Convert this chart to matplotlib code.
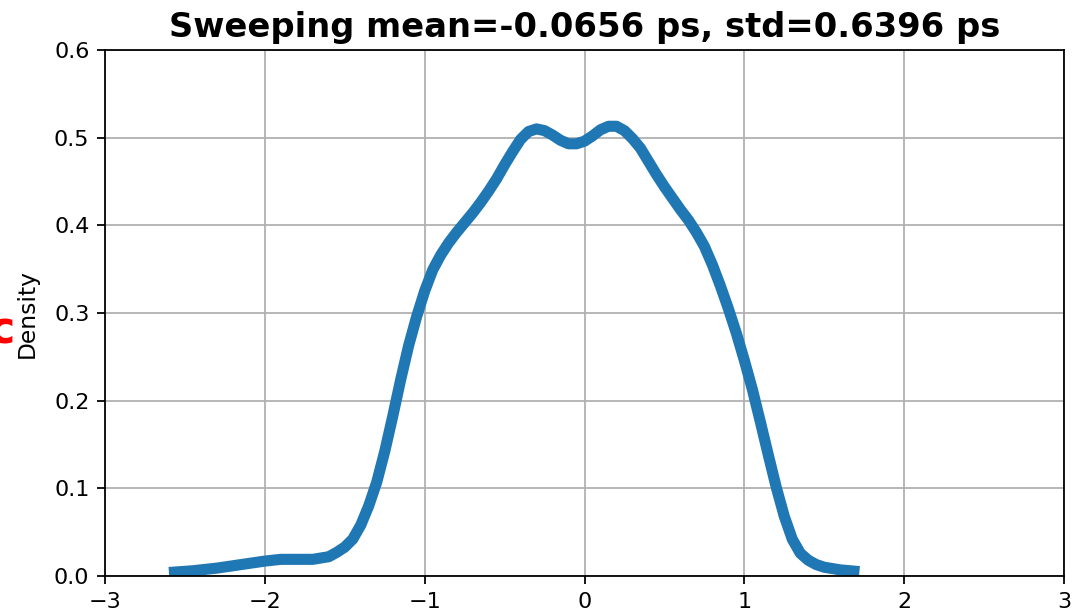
import matplotlib
matplotlib.use('Agg')
import matplotlib.pyplot as plt
import numpy as np

# values (delay in ps vs density)
delay_ps = [-2.60, -2.45, -2.30, -2.15, -2.00, -1.90, -1.80, -1.70, -1.60, -1.55,
            -1.50, -1.45, -1.40, -1.35, -1.30, -1.25, -1.20, -1.15, -1.10, -1.05,
            -1.00, -0.95, -0.90, -0.85, -0.80, -0.75, -0.70, -0.65, -0.60, -0.55,
            -0.50, -0.45, -0.40, -0.35, -0.30, -0.25, -0.20, -0.15, -0.10, -0.05,
            0.00, 0.05, 0.10, 0.15, 0.20, 0.25, 0.30, 0.35, 0.40, 0.45,
            0.50, 0.55, 0.60, 0.65, 0.70, 0.75, 0.80, 0.85, 0.90, 0.95,
            1.00, 1.05, 1.10, 1.15, 1.20, 1.25, 1.30, 1.35, 1.40, 1.45,
            1.50, 1.60, 1.72]
density = [0.004, 0.006, 0.009, 0.013, 0.017, 0.019, 0.019, 0.019, 0.022, 0.027,
           0.033, 0.042, 0.058, 0.080, 0.107, 0.142, 0.182, 0.224, 0.263, 0.296,
           0.325, 0.349, 0.366, 0.380, 0.392, 0.403, 0.414, 0.426, 0.439, 0.453,
           0.469, 0.484, 0.498, 0.507, 0.510, 0.508, 0.503, 0.497, 0.493, 0.493,
           0.496, 0.502, 0.509, 0.513, 0.513, 0.508, 0.499, 0.488, 0.473, 0.458,
           0.444, 0.431, 0.418, 0.406, 0.392, 0.376, 0.355, 0.331, 0.305, 0.277,
           0.246, 0.213, 0.176, 0.138, 0.101, 0.068, 0.042, 0.026, 0.018, 0.013,
           0.010, 0.007, 0.005]

mean_ps = -0.0656
std_ps = 0.6396

fig = plt.figure(figsize=(1089 / 160, 614 / 160), dpi=160)
ax = fig.add_axes([105 / 1089, 1 - 576 / 614, (1064 - 105) / 1089, (576 - 50) / 614])

ax.plot(delay_ps, density, color='#1f77b4', lw=5,
        solid_joinstyle='round', solid_capstyle='butt')
ax.set_xlim(-3, 3)
ax.set_ylim(0, 0.6)
ax.set_xticks(np.arange(-3, 4, 1))
ax.set_yticks(np.arange(0, 0.61, 0.1))
ax.grid(True)
ax.set_axisbelow(True)
ax.set_ylabel('Density', fontsize=10.5, labelpad=7)
ax.set_title('Sweeping mean=%.4f ps, std=%.4f ps' % (mean_ps, std_ps),
             fontsize=15.2, fontweight='bold')

fig.text(-12 / 1089, 1 - 343 / 614, 'c', color='red', fontsize=20,
         fontweight='bold', ha='left', va='baseline')

fig.savefig('out.png', dpi=160)
